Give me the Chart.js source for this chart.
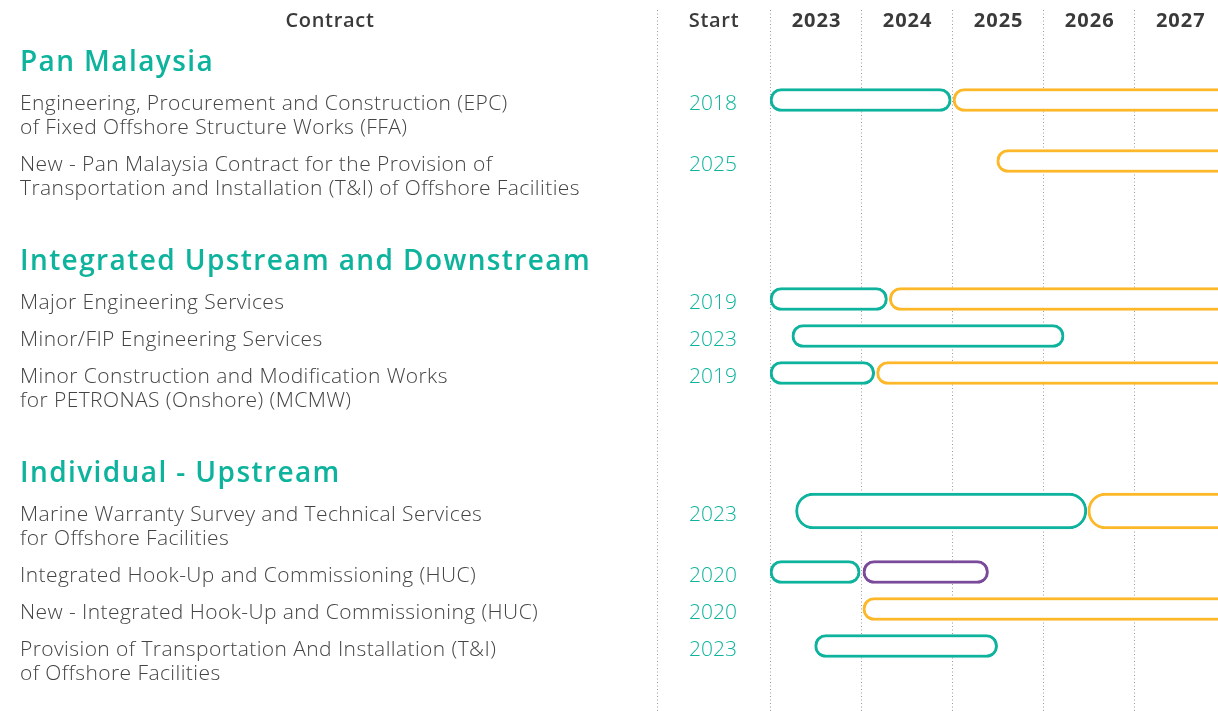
<!DOCTYPE html>
<html>
<head>
<meta charset="utf-8">
<title>Contract timeline</title>
<script src="https://cdn.jsdelivr.net/npm/chart.js@4.4.1/dist/chart.umd.min.js"></script>
<style>
  html, body { margin: 0; padding: 0; background: #fff; }
  #wrap { position: relative; width: 1218px; height: 711px; }
</style>
</head>
<body>
<div id="wrap"><canvas id="timeline"></canvas></div>
<script>
// ---------- Data ----------
const sections = ['Pan Malaysia', 'Integrated Upstream and Downstream', 'Individual - Upstream'];
const contractSection = [0, 0, 1, 1, 1, 2, 2, 2, 2];
const contracts = [
  ['Engineering, Procurement and Construction (EPC)', 'of Fixed Offshore Structure Works (FFA)'],
  ['New - Pan Malaysia Contract for the Provision of', 'Transportation and Installation (T&I) of Offshore Facilities'],
  ['Major Engineering Services'],
  ['Minor/FIP Engineering Services'],
  ['Minor Construction and Modification Works', 'for PETRONAS (Onshore) (MCMW)'],
  ['Marine Warranty Survey and Technical Services', 'for Offshore Facilities'],
  ['Integrated Hook-Up and Commissioning (HUC)'],
  ['New - Integrated Hook-Up and Commissioning (HUC)'],
  ['Provision of Transportation And Installation (T&I)', 'of Offshore Facilities']
];
const startYears = [2018, 2025, 2019, 2023, 2019, 2023, 2020, 2020, 2023];
const years = [2023, 2024, 2025, 2026, 2027];

// contract periods [from, to] in fractional years, null = none for that row
const currentTerm = [[2023, 2024.99], null, [2023, 2024.29], [2023.24, 2026.23], [2023, 2024.15],
                     [2023.28, 2026.48], [2023, 2023.99], null, [2023.49, 2025.5]];
const extendedTerm = [null, null, null, null, null, null, [2024.02, 2025.4], null, null];
const newTerm = [[2025.01, 2028.5], [2025.49, 2028.5], [2024.31, 2028.5], null, [2024.17, 2028.5],
                 [2026.49, 2028.5], null, [2024.02, 2028.5], null];

// ---------- Styles ----------
const TEAL = '#0db39c';
const YELLOW = '#fdb82a';
const PURPLE = '#7a4a9b';
const TEXT = '#444444';
const HEAD = '#3a3a3a';
const FONT = '"Open Sans", Lato, sans-serif';
const HIGHLIGHT_ROW = 5;

// ---------- Row layout (table units, top to bottom) ----------
const LINE = 24, ROW_GAP = 37, HEAD_TO_ROW = 41, ROW_TO_HEAD = 73;
const headY = [];
const rowY = [];
let cursor = 62;
contracts.forEach((lines, i) => {
  if (i === 0 || contractSection[i] !== contractSection[i - 1]) {
    if (i > 0) cursor = rowY[i - 1] + (contracts[i - 1].length - 1) * LINE + ROW_TO_HEAD;
    headY[contractSection[i]] = cursor;
    cursor += HEAD_TO_ROW;
  } else {
    cursor = rowY[i - 1] + (contracts[i - 1].length - 1) * LINE + ROW_GAP;
  }
  rowY[i] = cursor;
});

const phases = [
  { name: 'Current contract', periods: currentTerm, color: TEAL },
  { name: 'Extension', periods: extendedTerm, color: PURPLE },
  { name: 'New contract', periods: newTerm, color: YELLOW }
];

const datasets = [];
contracts.forEach((c, i) => {
  phases.forEach(p => {
    if (!p.periods[i]) return;
    datasets.push({
      label: p.name,
      data: [{ x: p.periods[i], y: rowY[i] - 3 }],
      backgroundColor: '#ffffff',
      borderColor: p.color,
      borderWidth: 3,
      borderRadius: 40,
      borderSkipped: false,
      grouped: false,
      barThickness: i === HIGHLIGHT_ROW ? 36 : 23
    });
  });
});

function setFont(ctx, font, spacing) {
  ctx.font = font;
  ctx.letterSpacing = spacing + 'px';
}

// ---------- Table text ----------
const tablePlugin = {
  id: 'tableText',
  afterDraw(chart) {
    const ctx = chart.ctx;
    const xs = chart.scales.x;
    const area = chart.chartArea;
    ctx.save();

    // separator before the Start column
    ctx.strokeStyle = '#9b9b9b';
    ctx.lineWidth = 1;
    ctx.setLineDash([1, 2.5]);
    ctx.beginPath();
    ctx.moveTo(657.5, area.top);
    ctx.lineTo(657.5, area.bottom);
    ctx.stroke();
    ctx.setLineDash([]);

    // column headers
    ctx.textBaseline = 'middle';
    ctx.textAlign = 'center';
    ctx.fillStyle = HEAD;
    setFont(ctx, '600 20px ' + FONT, 0.7);
    ctx.fillText('Contract', 330, 21);
    ctx.fillText('Start', 714, 21);
    setFont(ctx, '700 20px ' + FONT, 1);
    years.forEach(y => ctx.fillText(String(y), xs.getPixelForValue(y + 0.5) + 1, 21));

    // section titles
    ctx.textAlign = 'left';
    ctx.fillStyle = TEAL;
    setFont(ctx, '600 28px ' + FONT, 1.4);
    sections.forEach((s, k) => ctx.fillText(s, 20, headY[k] + 1));

    // contract names and start years
    contracts.forEach((lines, i) => {
      ctx.textAlign = 'left';
      ctx.fillStyle = TEXT;
      setFont(ctx, '300 21px ' + FONT, 0.42);
      lines.forEach((t, k) => ctx.fillText(t, 20, rowY[i] + 1 + k * LINE));
      ctx.textAlign = 'center';
      ctx.fillStyle = TEAL;
      setFont(ctx, '300 21px ' + FONT, 0);
      ctx.fillText(String(startYears[i]), 713, rowY[i] + 1);
    });
    ctx.restore();
  }
};

new Chart(document.getElementById('timeline'), {
  type: 'bar',
  data: { datasets },
  options: {
    indexAxis: 'y',
    responsive: true,
    maintainAspectRatio: false,
    animation: false,
    events: [],
    layout: { padding: { left: 770, right: 0, top: 10, bottom: 0 } },
    plugins: { legend: { display: false }, tooltip: { enabled: false } },
    scales: {
      x: {
        type: 'linear',
        min: 2023,
        max: 2027.92,
        ticks: { display: false, stepSize: 1, includeBounds: false },
        grid: { color: '#9b9b9b', lineWidth: 1, drawTicks: false },
        border: { display: false, dash: [1, 2.5] }
      },
      y: {
        type: 'linear',
        reverse: true,
        offset: false,
        min: 10,
        max: 711,
        display: false
      }
    }
  },
  plugins: [tablePlugin]
});
</script>
</body>
</html>
